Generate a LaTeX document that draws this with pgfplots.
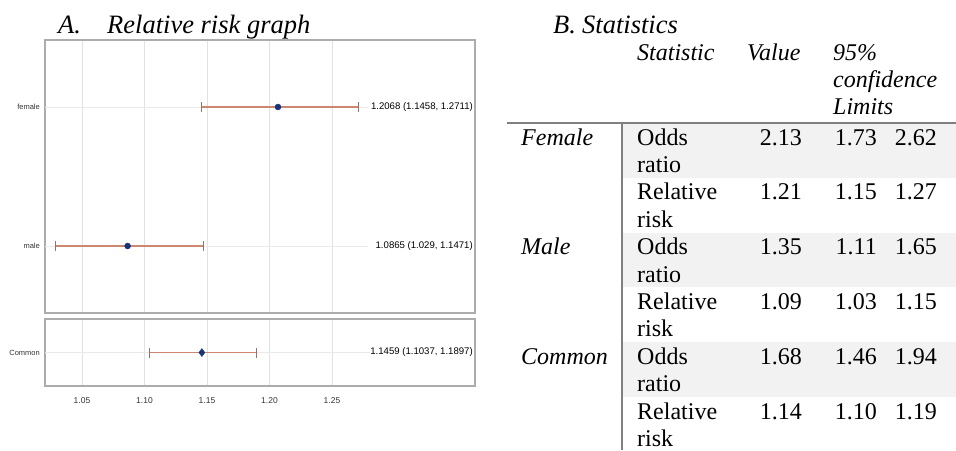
\documentclass[border=0pt]{standalone}
\usepackage{fontspec}
\setmainfont{Liberation Serif}
\newfontfamily\sasfont{Liberation Sans}
\usepackage{pgfplots}
\pgfplotsset{compat=1.18}

\definecolor{framegray}{RGB}{172,172,172}
\definecolor{gridgray}{RGB}{226,226,226}
\definecolor{refgray}{RGB}{234,234,234}
\definecolor{cibrown}{RGB}{205,135,112}
\definecolor{capgray}{RGB}{150,115,105}
\definecolor{ptblue}{RGB}{22,52,122}
\definecolor{rulegray}{RGB}{128,128,128}
\definecolor{rowshade}{RGB}{242,242,242}

\newcommand{\tb}{\fontsize{24}{27.4}\selectfont}
\newcommand{\ttl}{\fontsize{26.5}{30}\selectfont\itshape}
\newcommand{\sm}{\sasfont\fontsize{8.5}{10}\selectfont}
\newcommand{\lbl}{\sasfont\fontsize{9.6}{11}\selectfont}

\pgfplotsset{
  forest/.style={
    scale only axis, width=430pt,
    xmin=1.0204, xmax=1.3644,
    axis line style={framegray, line width=1.1pt},
    xtick={1.05,1.10,1.15,1.20,1.25},
    xmajorgrids, grid style={gridgray, line width=0.6pt},
    major tick length=0pt,
    /pgf/number format/assume math mode=true,
    tick label style={font=\sm, text=black!80},
    xticklabel style={/pgf/number format/fixed, /pgf/number format/fixed zerofill, /pgf/number format/precision=2},
    yticklabel style={font=\sasfont\fontsize{7.5}{9}\selectfont, inner sep=0pt, xshift=-5pt},
    clip=false,
  },
  ci/.style={
    only marks, mark size=3pt, mark options={fill=ptblue, draw=ptblue},
    error bars/x dir=both, error bars/x explicit,
    error bars/error mark=|,
    error bars/error bar style={cibrown, line width=1.2pt},
    error bars/error mark options={capgray, mark size=5pt, line width=0.8pt},
  },
}

\begin{document}
\begin{tikzpicture}
\useasboundingbox (0pt,0pt) rectangle (956pt,-450pt);

% ---------- A. relative risk graph ----------
\node[anchor=base west, inner sep=0pt, font=\ttl] at (58pt,-33pt) {A.};
\node[anchor=base west, inner sep=0pt, font=\ttl] at (107pt,-33pt) {Relative risk graph};

% strata panel
\begin{axis}[forest, at={(45pt,-313pt)}, anchor=south west,
  height=273pt, ymin=0.518, ymax=2.482,
  ytick={1,2}, yticklabels={male,female}, xticklabels={}]
  \addplot[refgray, line width=0.8pt] coordinates {(1.0204,2) (1.2788,2)};
  \addplot[refgray, line width=0.8pt] coordinates {(1.0204,1) (1.2788,1)};
  \addplot[ci, mark=*] coordinates {
    (1.2068,2) -= (0.0610,0) += (0.0643,0)
    (1.0865,1) -= (0.0575,0) += (0.0606,0)
  };
  \node[anchor=east, inner sep=0pt, font=\lbl] at (axis cs:1.3628,2) {1.2068 (1.1458, 1.2711)};
  \node[anchor=east, inner sep=0pt, font=\lbl] at (axis cs:1.3628,1) {1.0865 (1.029, 1.1471)};
\end{axis}

% common (pooled) panel
\begin{axis}[forest, at={(45pt,-386pt)}, anchor=south west,
  height=67pt, ymin=-0.5, ymax=0.5,
  ytick={0}, yticklabels={Common},
  xticklabel style={yshift=-8pt}]
  \addplot[refgray, line width=0.8pt] coordinates {(1.0204,0) (1.2804,0)};
  \addplot[ci, mark=diamond*, mark size=4pt] coordinates {
    (1.1459,0) -= (0.0422,0) += (0.0438,0)
  };
  \node[anchor=east, inner sep=0pt, font=\lbl] at (axis cs:1.3628,0) {1.1459 (1.1037, 1.1897)};
\end{axis}

% ---------- B. statistics table ----------
\fill[rowshade] (623pt,-123pt) rectangle (956pt,-177.8pt);
\fill[rowshade] (623pt,-232.6pt) rectangle (956pt,-287.4pt);
\fill[rowshade] (623pt,-342.2pt) rectangle (956pt,-397pt);
\draw[rulegray, line width=2.5pt] (507pt,-123pt) -- (956pt,-123pt);
\draw[rulegray, line width=2pt] (622pt,-122pt) -- (622pt,-450pt);

\begin{scope}[every node/.style={inner sep=0pt, font=\tb}]
  \node[anchor=base west, font=\ttl] at (553pt,-33pt) {B.};
  \node[anchor=base west, font=\ttl] at (582pt,-33pt) {Statistics};
  \node[anchor=base west, font=\tb\itshape] at (637pt,-60pt) {Statistic};
  \node[anchor=base west, font=\tb\itshape] at (747pt,-60pt) {Value};
  \node[anchor=base west, font=\tb\itshape] at (833pt,-60pt) {95\%};
  \node[anchor=base west, font=\tb\itshape] at (833pt,-87pt) {confidence};
  \node[anchor=base west, font=\tb\itshape] at (833pt,-114pt) {Limits};

  \node[anchor=base west, font=\tb\itshape] at (521pt,-145pt) {Female};
  \node[anchor=base west, font=\tb\itshape] at (521pt,-254.6pt) {Male};
  \node[anchor=base west, font=\tb\itshape] at (521pt,-364.2pt) {Common};

  \foreach \k/\first/\second/\est/\lo/\hi in {
      0/Odds/ratio/2.13/1.73/2.62,
      2/Relative/risk/1.21/1.15/1.27,
      4/Odds/ratio/1.35/1.11/1.65,
      6/Relative/risk/1.09/1.03/1.15,
      8/Odds/ratio/1.68/1.46/1.94,
      10/Relative/risk/1.14/1.10/1.19} {
    \pgfmathsetmacro{\yb}{-(145+27.4*\k)}
    \pgfmathsetmacro{\yc}{-(145+27.4*(\k+1))}
    \node[anchor=base west] at (637pt,\yb pt) {\first};
    \node[anchor=base west] at (637pt,\yc pt) {\second};
    \node[anchor=base east] at (802pt,\yb pt) {\est};
    \node[anchor=base east] at (877pt,\yb pt) {\lo};
    \node[anchor=base east] at (937pt,\yb pt) {\hi};
  }
\end{scope}
\end{tikzpicture}
\end{document}
